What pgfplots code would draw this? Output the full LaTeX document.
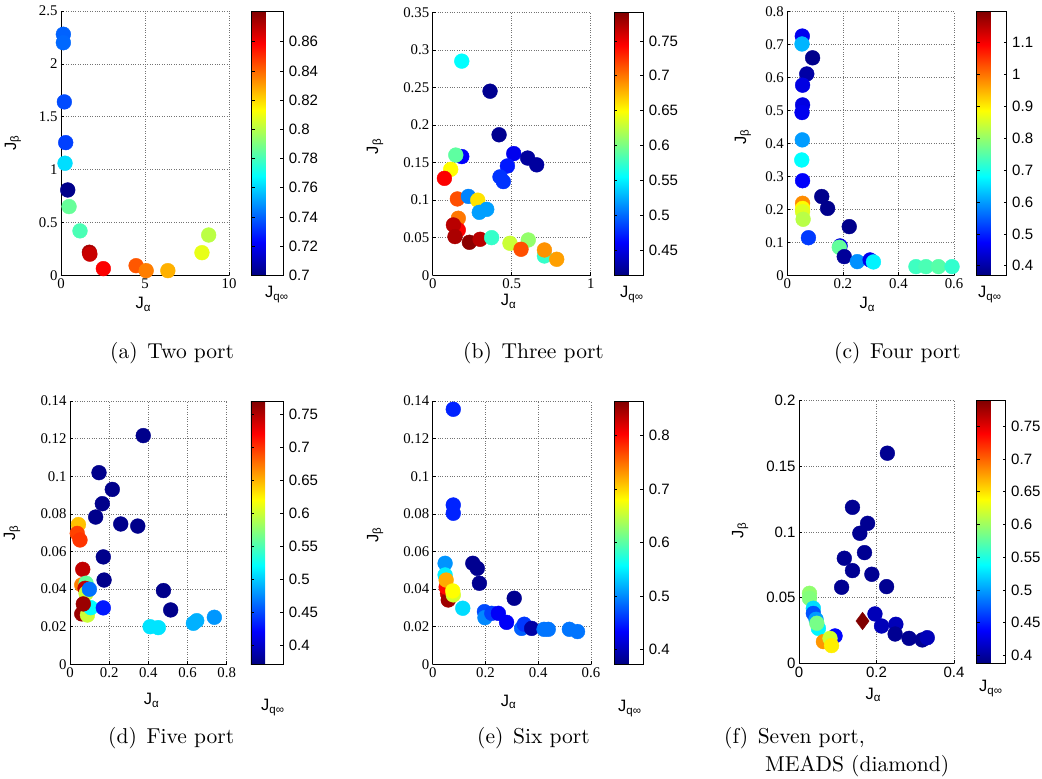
\documentclass[border=0pt]{standalone}
\usepackage{fontspec}
\newfontfamily\serifticks{Liberation Serif}
\newfontfamily\sansf{Liberation Sans}
\newfontfamily\capf{lmroman10-regular}[Extension=.otf]
\usepackage{pgfplots}
\pgfplotsset{compat=1.18}

\newcommand{\tickfont}{\fontsize{14.8}{16}\serifticks}
\newcommand{\cbfont}{\fontsize{15}{16}\sansf}
\newcommand{\labfont}{\fontsize{16.5}{18}\sansf}
\newcommand{\capfont}{\fontsize{21.5}{25}\capf}

\pgfplotsset{
  /pgf/number format/assume math mode=true,
  panel/.style={
    scale only axis, anchor=south west, clip=false,
    axis x line*=bottom, axis y line*=left,
    axis line style={line width=0.8pt, black},
    xmin=0, ymin=0,
    grid=major, major grid style={dotted, line width=0.6pt, black!55},
    tick align=inside, major tick length=3pt,
    tick style={black, line width=0.6pt},
    scaled ticks=false,
    /pgf/number format/fixed, /pgf/number format/precision=3,
    ticklabel style={font=\tickfont},
    label style={font=\labfont},
    xlabel={J\textsubscript{α}}, ylabel={J\textsubscript{β}},
    colormap/jet, colorbar,
    only marks, scatter, mark=*, mark size=7.4pt, point meta=explicit,
    scatter/use mapped color={draw=mapped color, fill=mapped color},
  },
  cb/.style n args={3}{colorbar shift/.style={},
   colorbar style={
    width=#1, at={(parent axis.north east)}, anchor=north west, xshift=#2,
    ytick={#3}, scaled y ticks=false,
    /pgf/number format/fixed, /pgf/number format/precision=3,
    ytick pos=both, yticklabel pos=right,
    tick align=inside, major tick length=3pt,
    ytick style={black, line width=0.6pt},
    axis line style={line width=0.8pt, black},
    yticklabel style={font=\cbfont, xshift=2pt},
  }},
}

\begin{document}
\begin{tikzpicture}
\useasboundingbox (0,0) rectangle (1042pt,779pt);

% (a) Two port
\begin{axis}[panel, at={(61pt,503.7pt)}, width=168pt, height=264.3pt,
  xmax=10, ymax=2.5, xtick={0,5,10}, ytick={0,0.5,1,1.5,2,2.5},
  point meta min=0.7, point meta max=0.881,
  cb={31.6pt}{22.7pt}{0.7,0.72,0.74,0.76,0.78,0.8,0.82,0.84,0.86},
  xlabel style={at={(axis description cs:0.49,-0.11)}, anchor=center},
  ylabel style={at={(axis description cs:-0.286,0.5)}, anchor=center}]
\addplot coordinates {
(0.14,2.28)[0.740] (0.14,2.20)[0.741] (0.20,1.64)[0.736] (0.28,1.255)[0.734]
(0.24,1.06)[0.762] (0.40,0.807)[0.702] (0.48,0.65)[0.786] (1.13,0.42)[0.781]
(1.69,0.218)[0.874] (1.72,0.200)[0.868] (2.52,0.063)[0.859] (4.47,0.091)[0.843]
(5.07,0.044)[0.836] (6.36,0.044)[0.827] (8.39,0.214)[0.809] (8.79,0.381)[0.801]
};
\end{axis}

% (b) Three port
\begin{axis}[panel, at={(432.7pt,503.7pt)}, width=158pt, height=263pt,
  xmax=1, ymax=0.35, xtick={0,0.5,1}, ytick={0,0.05,0.1,0.15,0.2,0.25,0.3,0.35},
  point meta min=0.414, point meta max=0.791,
  cb={29pt}{23.6pt}{0.45,0.5,0.55,0.6,0.65,0.7,0.75},
  xlabel style={at={(axis description cs:0.48,-0.10)}, anchor=center},
  ylabel style={at={(axis description cs:-0.365,0.49)}, anchor=center}]
\addplot coordinates {
(0.184,0.285)[0.555] (0.363,0.245)[0.42] (0.420,0.187)[0.42] (0.184,0.158)[0.46]
(0.146,0.160)[0.59] (0.114,0.141)[0.65] (0.074,0.129)[0.745] (0.513,0.162)[0.455]
(0.601,0.156)[0.425] (0.658,0.147)[0.425] (0.473,0.1455)[0.47] (0.426,0.131)[0.48]
(0.447,0.1247)[0.48] (0.156,0.1016)[0.715] (0.226,0.105)[0.51] (0.285,0.100)[0.66]
(0.295,0.0838)[0.52] (0.342,0.0878)[0.52] (0.162,0.0759)[0.70] (0.162,0.0603)[0.745]
(0.131,0.067)[0.77] (0.141,0.0515)[0.775] (0.232,0.0439)[0.787] (0.300,0.0479)[0.77]
(0.373,0.0501)[0.575] (0.489,0.0426)[0.63] (0.605,0.047)[0.61] (0.559,0.0346)[0.715]
(0.707,0.0257)[0.575] (0.707,0.0337)[0.69] (0.785,0.0213)[0.685]
};
\end{axis}

% (c) Four port
\begin{axis}[panel, at={(787.3pt,503.7pt)}, width=166.7pt, height=263.6pt,
  xmax=0.6, ymax=0.8, xtick={0,0.2,0.4,0.6}, ytick={0,0.1,0.2,0.3,0.4,0.5,0.6,0.7,0.8},
  point meta min=0.37, point meta max=1.197,
  cb={30pt}{22.7pt}{0.4,0.5,0.6,0.7,0.8,0.9,1,1.1},
  xlabel style={at={(axis description cs:0.48,-0.11)}, anchor=center},
  ylabel style={at={(axis description cs:-0.266,0.525)}, anchor=center}]
\addplot coordinates {
(0.054,0.726)[0.46] (0.053,0.702)[0.62] (0.091,0.660)[0.38] (0.070,0.611)[0.40]
(0.055,0.577)[0.45] (0.055,0.517)[0.45] (0.053,0.494)[0.46] (0.054,0.411)[0.60]
(0.052,0.350)[0.68] (0.055,0.287)[0.47] (0.124,0.239)[0.38] (0.145,0.203)[0.38]
(0.055,0.2185)[0.98] (0.055,0.203)[0.89] (0.055,0.193)[0.86] (0.057,0.170)[0.83]
(0.076,0.114)[0.52] (0.223,0.1477)[0.38] (0.190,0.089)[0.45] (0.187,0.085)[0.76]
(0.205,0.0566)[0.39] (0.252,0.0415)[0.59] (0.298,0.0465)[0.46] (0.310,0.0405)[0.67]
(0.463,0.0263)[0.73] (0.499,0.0263)[0.74] (0.544,0.0263)[0.75] (0.593,0.0263)[0.72]
};
\end{axis}

% (d) Five port
\begin{axis}[panel, at={(70pt,114.7pt)}, width=156.7pt, height=263.3pt,
  xmax=0.8, ymax=0.14, xtick={0,0.2,0.4,0.6,0.8}, ytick={0,0.02,0.04,0.06,0.08,0.1,0.12,0.14},
  point meta min=0.3706, point meta max=0.7708,
  cb={32.3pt}{24.3pt}{0.4,0.45,0.5,0.55,0.6,0.65,0.7,0.75},
  xlabel style={at={(axis description cs:0.52,-0.136)}, anchor=center},
  ylabel style={at={(axis description cs:-0.37,0.5)}, anchor=center}]
\addplot coordinates {
(0.374,0.1216)[0.375] (0.148,0.1019)[0.375] (0.216,0.093)[0.375] (0.165,0.0854)[0.375]
(0.131,0.0783)[0.375] (0.259,0.0746)[0.375] (0.346,0.0735)[0.375] (0.170,0.0571)[0.375]
(0.174,0.0448)[0.375] (0.043,0.0743)[0.645] (0.037,0.0696)[0.695] (0.051,0.0661)[0.70]
(0.065,0.0505)[0.745] (0.060,0.0422)[0.67] (0.082,0.0431)[0.56] (0.077,0.0404)[0.745]
(0.082,0.0377)[0.60] (0.099,0.0399)[0.465] (0.060,0.0268)[0.76] (0.089,0.0262)[0.60]
(0.106,0.0301)[0.52] (0.068,0.0321)[0.76] (0.170,0.030)[0.43] (0.477,0.0392)[0.375]
(0.514,0.0289)[0.375] (0.409,0.020)[0.51] (0.451,0.0195)[0.51] (0.630,0.0218)[0.49]
(0.647,0.0232)[0.49] (0.737,0.025)[0.48]
};
\end{axis}

% (e) Six port
\begin{axis}[panel, at={(432.7pt,114.7pt)}, width=158.3pt, height=263.3pt,
  xmax=0.6, ymax=0.14, xtick={0,0.2,0.4,0.6}, ytick={0,0.02,0.04,0.06,0.08,0.1,0.12,0.14},
  point meta min=0.372, point meta max=0.865,
  cb={29pt}{23.3pt}{0.4,0.5,0.6,0.7,0.8},
  xlabel style={at={(axis description cs:0.48,-0.143)}, anchor=center},
  ylabel style={at={(axis description cs:-0.364,0.49)}, anchor=center}]
\addplot coordinates {
(0.078,0.1356)[0.45] (0.078,0.0847)[0.45] (0.078,0.0803)[0.45] (0.047,0.0537)[0.505]
(0.047,0.0475)[0.55] (0.056,0.0377)[0.83] (0.059,0.0342)[0.85] (0.051,0.041)[0.80]
(0.051,0.0448)[0.72] (0.078,0.0369)[0.66] (0.114,0.0298)[0.54] (0.076,0.039)[0.68]
(0.152,0.0537)[0.38] (0.169,0.051)[0.38] (0.177,0.0431)[0.38] (0.309,0.0351)[0.38]
(0.196,0.028)[0.47] (0.198,0.0248)[0.50] (0.224,0.0271)[0.465] (0.249,0.0271)[0.43]
(0.280,0.0223)[0.43] (0.337,0.0191)[0.48] (0.347,0.0213)[0.46] (0.375,0.0191)[0.39]
(0.422,0.0186)[0.49] (0.438,0.0186)[0.49] (0.518,0.0186)[0.49] (0.549,0.0174)[0.49]
};
\end{axis}

% (f) Seven port, MEADS (diamond)
\begin{axis}[panel, at={(799pt,115.7pt)}, width=155pt, height=262.6pt,
  ticklabel style={font=\cbfont},
  xmax=0.4, ymax=0.2, xtick={0,0.2,0.4}, ytick={0,0.05,0.1,0.15,0.2},
  point meta min=0.388, point meta max=0.789,
  cb={29pt}{22.7pt}{0.4,0.45,0.5,0.55,0.6,0.65,0.7,0.75},
  xlabel style={at={(axis description cs:0.48,-0.12)}, anchor=center},
  ylabel style={at={(axis description cs:-0.38,0.506)}, anchor=center}]
\addplot coordinates {
(0.228,0.160)[0.395] (0.138,0.1188)[0.395] (0.177,0.1066)[0.395] (0.157,0.099)[0.395]
(0.169,0.0843)[0.395] (0.117,0.080)[0.395] (0.138,0.0706)[0.395] (0.188,0.0678)[0.395]
(0.110,0.0579)[0.395] (0.226,0.0584)[0.395] (0.196,0.0376)[0.41] (0.213,0.0284)[0.41]
(0.250,0.0297)[0.41] (0.248,0.0223)[0.395] (0.284,0.019)[0.395] (0.318,0.0178)[0.395]
(0.331,0.0195)[0.41] (0.093,0.0208)[0.44] (0.027,0.0533)[0.595] (0.027,0.0495)[0.59]
(0.037,0.0419)[0.525] (0.037,0.038)[0.47] (0.044,0.0335)[0.50] (0.050,0.0266)[0.535]
(0.046,0.0305)[0.585] (0.063,0.0165)[0.68] (0.080,0.019)[0.62] (0.084,0.0135)[0.645]
};
\addplot[only marks, scatter, mark=diamond*, mark size=8.8pt] coordinates {(0.164,0.0322)[0.789]};
\end{axis}

% colorbar labels
\node[anchor=base west, font=\labfont, inner sep=0] at (265pt,481pt) {J\textsubscript{q∞}};
\node[anchor=base west, font=\labfont, inner sep=0] at (620pt,481pt) {J\textsubscript{q∞}};
\node[anchor=base west, font=\labfont, inner sep=0] at (978pt,481pt) {J\textsubscript{q∞}};
\node[anchor=base west, font=\labfont, inner sep=0] at (261pt,68pt) {J\textsubscript{q∞}};
\node[anchor=base west, font=\labfont, inner sep=0] at (618pt,67pt) {J\textsubscript{q∞}};
\node[anchor=base west, font=\labfont, inner sep=0] at (979pt,87pt) {J\textsubscript{q∞}};

% captions
\node[anchor=base west, font=\capfont, inner sep=0] at (110pt,420pt) {(a)\hspace{0.45em}Two port};
\node[anchor=base west, font=\capfont, inner sep=0] at (463pt,420pt) {(b)\hspace{0.45em}Three port};
\node[anchor=base west, font=\capfont, inner sep=0] at (834pt,420pt) {(c)\hspace{0.45em}Four port};
\node[anchor=base west, font=\capfont, inner sep=0] at (108pt,35pt) {(d)\hspace{0.45em}Five port};
\node[anchor=base west, font=\capfont, inner sep=0] at (477pt,35pt) {(e)\hspace{0.45em}Six port};
\node[anchor=base west, font=\capfont, inner sep=0] at (724pt,35pt) {(f)\hspace{0.45em}Seven port,};
\node[anchor=base west, font=\capfont, inner sep=0] at (765pt,7pt) {MEADS (diamond)};
\end{tikzpicture}
\end{document}
